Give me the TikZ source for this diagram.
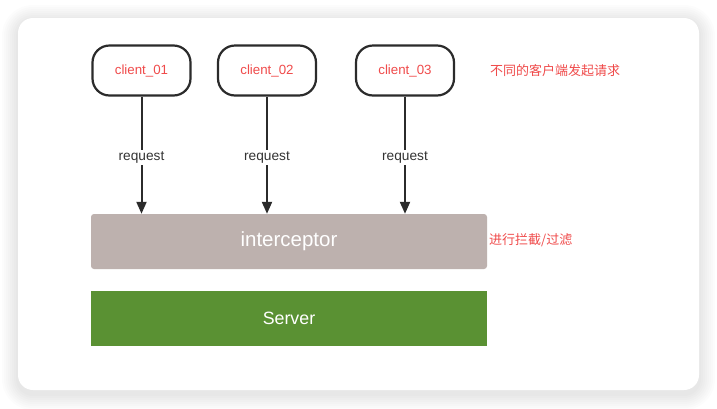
\documentclass[tikz,border=0pt]{standalone}
\usepackage{fontspec}
\setmainfont{Liberation Sans}
\newfontfamily\cjk{Noto Sans CJK SC}
\usetikzlibrary{arrows.meta}
\definecolor{redtxt}{HTML}{F04B4B}
\definecolor{intc}{HTML}{BDB1AE}
\definecolor{servc}{HTML}{5A9133}
\definecolor{linec}{HTML}{2B2B2B}
\definecolor{reqc}{HTML}{333333}
\tikzset{
  client/.style={draw=linec, line width=2.2pt, rounded corners=17pt, minimum width=98pt, minimum height=50pt, text=redtxt, font=\fontsize{13.3}{15}\selectfont, inner sep=0pt},
  bar/.style={minimum width=396pt, minimum height=55pt, inner sep=0pt, text=white},
  req/.style={-{Triangle[length=12pt,width=10pt]}, line width=2pt, draw=linec},
  reqlabel/.style={fill=white, text=reqc, font=\fontsize{13.7}{15}\selectfont, inner sep=2pt},
  note/.style={text=redtxt, font=\cjk\fontsize{13}{15}\selectfont, anchor=west, inner sep=0pt}
}
\begin{document}
\begin{tikzpicture}[x=1pt,y=-1pt]
\useasboundingbox (0,0) rectangle (717,408);
\fill[white] (0,0) rectangle (717,408);
% shadow
\foreach \i in {16,14,...,2}{
  \pgfmathsetmacro{\rr}{15+\i}
  \fill[black, opacity=0.013, rounded corners=\rr pt] ({18-\i},{21-\i}) rectangle ({699+\i},{394+\i});
}
\fill[white, rounded corners=15pt] (18,18) rectangle (699,390);
% clients
\node[client] (c1) at (141.5,70.5) {client\_01};
\node[client] (c2) at (267,70.5) {client\_02};
\node[client] (c3) at (405,70.5) {client\_03};
% bars
\node[bar, fill=intc, rounded corners=3pt, font=\fontsize{20.5}{22}\selectfont] (int) at (289,241.5) {interceptor};
\node[bar, fill=servc, font=\fontsize{17.8}{20}\selectfont] (srv) at (289,318) {Server};
% arrows
\draw[req] (c1.south) -- (c1.south |- int.north) node[pos=0.52, reqlabel] {request};
\draw[req] (c2.south) -- (c2.south |- int.north) node[pos=0.52, reqlabel] {request};
\draw[req] (c3.south) -- (c3.south |- int.north) node[pos=0.52, reqlabel] {request};
% notes
\node[note] (n1) at (490,71) {不同的客户端发起请求};
\node[note] (n2) at (489,240) {进行拦截/过滤};
\end{tikzpicture}
\end{document}
